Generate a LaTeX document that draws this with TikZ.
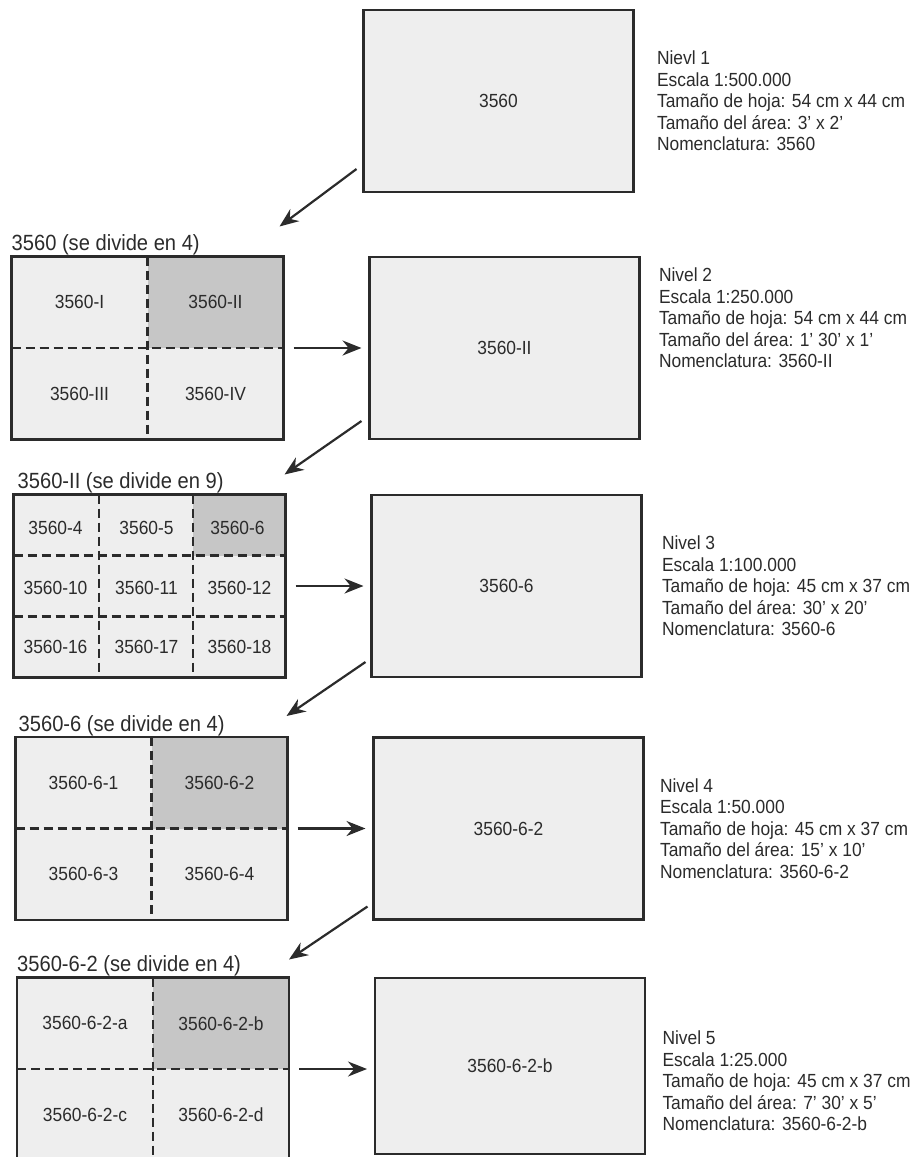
\documentclass[tikz,border=0pt]{standalone}
\usepackage{fontspec}
\setmainfont{Liberation Sans}[FakeStretch=0.915]
\usetikzlibrary{arrows.meta, positioning, calc, backgrounds}
\definecolor{inkGray}{HTML}{2B2B2B}
\definecolor{paperGray}{HTML}{EEEEEE}
\definecolor{shadeGray}{HTML}{C6C6C6}

\begin{document}
\begin{tikzpicture}[x=1pt, y=1pt,
mapbox/.style={rectangle, draw=inkGray, line width=2.2pt, fill=paperGray, outer sep=0pt, minimum width=270pt, minimum height=182pt, text=inkGray, font=\fontsize{19}{22}\selectfont},
gridbox/.style={rectangle, draw=inkGray, line width=2.2pt, outer sep=0pt, minimum width=272pt, minimum height=183pt},
celltext/.style={text=inkGray, font=\fontsize{19}{22}\selectfont},
divline/.style={dash pattern=on 9pt off 5pt, line width=2.2pt, inkGray},
info/.style={align=left, anchor=west, text=inkGray, font=\fontsize{19}{21.5}\selectfont},
divtitle/.style={anchor=base west, inner sep=0pt, text=inkGray, font=\fontsize{22}{25}\selectfont},
arrow/.style={-{Stealth[length=19pt, width=15pt]}, line width=2.2pt, inkGray}
]
\useasboundingbox (0,0) rectangle (914,-1157);

% nivel 1
\node[mapbox] (n1) at (498.5,-101) {3560};
\node[info] (t1) at ([xshift=20pt]n1.east) {Nievl 1\\Escala 1:500.000\\Tamaño de hoja: 54 cm x 44 cm\\Tamaño del área: 3' x 2'\\Nomenclatura: 3560};

% nivel 2
\node[gridbox] (d1) at (147.5,-348) {};
\begin{scope}[on background layer]
\fill[paperGray] (d1.south west) rectangle (d1.north east);
\fill[shadeGray] (d1.north) rectangle (d1.east);
\end{scope}
\draw[divline] (d1.north) -- (d1.south);
\draw[divline] (d1.west) -- (d1.east);
\node[celltext] (d1a) at ($(d1.center)!0.5!(d1.north west)$) {3560-I};
\node[celltext] (d1b) at ($(d1.center)!0.5!(d1.north east)$) {3560-II};
\node[celltext] (d1c) at ($(d1.center)!0.5!(d1.south west)$) {3560-III};
\node[celltext] (d1d) at ($(d1.center)!0.5!(d1.south east)$) {3560-IV};
\node[divtitle] (l1) at ([shift={(0,6)}]d1.north west) {3560 (se divide en 4)};

\node[mapbox, right=86pt of d1] (n2) {3560-II};
\node[info] (t2) at ([shift={(16,30)}]n2.east) {Nivel 2\\Escala 1:250.000\\Tamaño de hoja: 54 cm x 44 cm\\Tamaño del área: 1' 30' x 1'\\Nomenclatura: 3560-II};

% nivel 3
\node[gridbox] (d2) at (149.5,-586) {};
\begin{scope}[on background layer]
\fill[paperGray] (d2.south west) rectangle (d2.north east);
\fill[shadeGray] ($(d2.north west)!0.659!(d2.north east)$) rectangle ($(d2.north east)!0.3333!(d2.south east)$);
\end{scope}
\draw[divline] ($(d2.north west)!0.315!(d2.north east)$) -- ($(d2.south west)!0.315!(d2.south east)$);
\draw[divline] ($(d2.north west)!0.659!(d2.north east)$) -- ($(d2.south west)!0.659!(d2.south east)$);
\draw[divline] ($(d2.north west)!0.3333!(d2.south west)$) -- ($(d2.north east)!0.3333!(d2.south east)$);
\draw[divline] ($(d2.north west)!0.6667!(d2.south west)$) -- ($(d2.north east)!0.6667!(d2.south east)$);
\node[celltext] (d2a) at ([shift={(42,-33)}]d2.north west) {3560-4};
\node[celltext] (d2b) at ([shift={(133,-33)}]d2.north west) {3560-5};
\node[celltext] (d2c) at ([shift={(224,-33)}]d2.north west) {3560-6};
\node[celltext] (d2d) at ([shift={(42,-93)}]d2.north west) {3560-10};
\node[celltext] (d2e) at ([shift={(133,-93)}]d2.north west) {3560-11};
\node[celltext] (d2f) at ([shift={(226,-93)}]d2.north west) {3560-12};
\node[celltext] (d2g) at ([shift={(42,-152)}]d2.north west) {3560-16};
\node[celltext] (d2h) at ([shift={(133,-152)}]d2.north west) {3560-17};
\node[celltext] (d2i) at ([shift={(226,-152)}]d2.north west) {3560-18};
\node[divtitle] (l2) at ([shift={(4,6)}]d2.north west) {3560-II (se divide en 9)};

\node[mapbox, right=86pt of d2] (n3) {3560-6};
\node[info] (t3) at ([xshift=17pt]n3.east) {Nivel 3\\Escala 1:100.000\\Tamaño de hoja: 45 cm x 37 cm\\Tamaño del área: 30' x 20'\\Nomenclatura: 3560-6};

% nivel 4
\node[gridbox] (d3) at (151.5,-828.5) {};
\begin{scope}[on background layer]
\fill[paperGray] (d3.south west) rectangle (d3.north east);
\fill[shadeGray] (d3.north) rectangle (d3.east);
\end{scope}
\draw[divline] (d3.north) -- (d3.south);
\draw[divline] (d3.west) -- (d3.east);
\node[celltext] (d3a) at ($(d3.center)!0.5!(d3.north west)$) {3560-6-1};
\node[celltext] (d3b) at ($(d3.center)!0.5!(d3.north east)$) {3560-6-2};
\node[celltext] (d3c) at ($(d3.center)!0.5!(d3.south west)$) {3560-6-3};
\node[celltext] (d3d) at ($(d3.center)!0.5!(d3.south east)$) {3560-6-4};
\node[divtitle] (l3) at ([shift={(3,6)}]d3.north west) {3560-6 (se divide en 4)};

\node[mapbox, right=86pt of d3] (n4) {3560-6-2};
\node[info] (t4) at ([xshift=13pt]n4.east) {Nivel 4\\Escala 1:50.000\\Tamaño de hoja: 45 cm x 37 cm\\Tamaño del área: 15' x 10'\\Nomenclatura: 3560-6-2};

% nivel 5
\node[gridbox] (d4) at (153,-1069) {};
\begin{scope}[on background layer]
\fill[paperGray] (d4.south west) rectangle (d4.north east);
\fill[shadeGray] (d4.north) rectangle (d4.east);
\end{scope}
\draw[divline] (d4.north) -- (d4.south);
\draw[divline] (d4.west) -- (d4.east);
\node[celltext] (d4a) at ($(d4.center)!0.5!(d4.north west)$) {3560-6-2-a};
\node[celltext] (d4b) at ($(d4.center)!0.5!(d4.north east)$) {3560-6-2-b};
\node[celltext] (d4c) at ($(d4.center)!0.5!(d4.south west)$) {3560-6-2-c};
\node[celltext] (d4d) at ($(d4.center)!0.5!(d4.south east)$) {3560-6-2-d};
\node[divtitle] (l4) at ([shift={(0,6)}]d4.north west) {3560-6-2 (se divide en 4)};

\node[mapbox, right=86pt of d4, yshift=3pt, minimum height=176pt] (n5) {3560-6-2-b};
\node[info] (t5) at ([shift={(14,-15)}]n5.east) {Nivel 5\\Escala 1:25.000\\Tamaño de hoja: 45 cm x 37 cm\\Tamaño del área: 7' 30' x 5'\\Nomenclatura: 3560-6-2-b};

% flechas
\draw[arrow] ([shift={(-7,23)}]n1.south west) -- ([shift={(-4,30)}]d1.north east);
\draw[arrow] ([shift={(-8,18)}]n2.south west) -- ([shift={(-1,20)}]d2.north east);
\draw[arrow] ([shift={(-6,15)}]n3.south west) -- ([shift={(-1,21)}]d3.north east);
\draw[arrow] ([shift={(-6,13)}]n4.south west) -- ([shift={(0,18)}]d4.north east);
\draw[arrow, shorten <=10pt, shorten >=8pt] (d1.east) -- (d1.east -| n2.west);
\draw[arrow, shorten <=10pt, shorten >=8pt] (d2.east) -- (d2.east -| n3.west);
\draw[arrow, shorten <=10pt, shorten >=8pt] (d3.east) -- (d3.east -| n4.west);
\draw[arrow, shorten <=10pt, shorten >=8pt] (d4.east) -- (d4.east -| n5.west);
\end{tikzpicture}
\end{document}
